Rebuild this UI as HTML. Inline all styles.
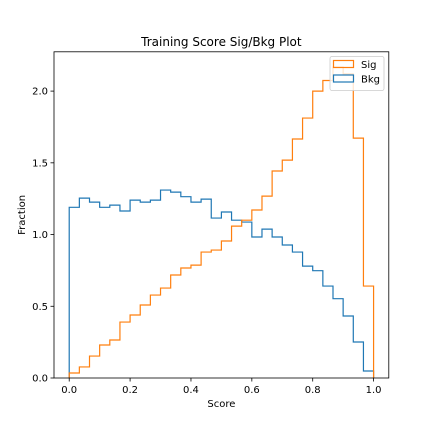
<!DOCTYPE html>
<html><head><meta charset="utf-8"><style>
body{margin:0;background:#fff;}
svg{display:block;font-family:"DejaVu Sans","Liberation Sans",sans-serif;}
</style></head><body>
<svg id="chart" width="432" height="432" viewBox="0 0 432 432">
<rect width="432" height="432" fill="#fff"/>
<text x="221.4" y="46" font-size="12" text-anchor="middle">Training Score Sig/Bkg Plot</text>
<g id="plot"></g>
</svg>
<script>
const binEdgesCount = 30;
const xTicks = [0.0, 0.2, 0.4, 0.6, 0.8, 1.0];
const xTickLabels = ["0.0","0.2","0.4","0.6","0.8","1.0"];
const yTicks = [0.0, 0.5, 1.0, 1.5, 2.0];
const yTickLabels = ["0.0","0.5","1.0","1.5","2.0"];
const sigValues = [0.035,0.077,0.153,0.23,0.265,0.39,0.439,0.509,0.578,0.627,0.718,0.767,0.787,0.878,0.892,0.955,1.059,1.10,1.171,1.268,1.443,1.519,1.666,1.812,2.0,2.074,2.167,2.12,1.672,0.641];
const bkgValues = [1.19,1.254,1.226,1.19,1.205,1.164,1.24,1.226,1.24,1.31,1.296,1.264,1.226,1.247,1.115,1.157,1.10,1.087,0.983,1.038,0.983,0.927,0.878,0.78,0.748,0.641,0.553,0.432,0.251,0.049];

const L=54,R=388.8,T=51.8,B=378;
const xmin=-0.05,xmax=1.05,ymin=0,ymax=2.274;
const X=v=>L+(v-xmin)/(xmax-xmin)*(R-L);
const Y=v=>B-(v-ymin)/(ymax-ymin)*(B-T);
const NS="http://www.w3.org/2000/svg";
const g=document.getElementById('plot');
function mk(tag,attrs){const e=document.createElementNS(NS,tag);for(const k in attrs)e.setAttribute(k,attrs[k]);g.appendChild(e);return e;}

function stepPath(vals){
  const n=vals.length;let d=`M${X(0)},${Y(0)}`;
  for(let i=0;i<n;i++){d+=` L${X(i/n)},${Y(vals[i])} L${X((i+1)/n)},${Y(vals[i])}`;}
  d+=` L${X(1)},${Y(0)}`;return d;
}
let p=mk('path',{d:stepPath(bkgValues),fill:'none',stroke:'#1f77b4','stroke-width':1.2});


p=mk('path',{d:stepPath(sigValues),fill:'none',stroke:'#ff7f0e','stroke-width':1.2});



let fr=mk('rect',{x:L,y:T,width:R-L,height:B-T,fill:'none',stroke:'#000','stroke-width':0.8});



xTicks.forEach((v,i)=>{
  const t=mk('line',{x1:X(v),x2:X(v),y1:B,y2:B+3.5,stroke:'#000','stroke-width':0.8});
  
  
  const tx=mk('text',{x:X(v),y:B+15,'font-size':10,'text-anchor':'middle'});
  tx.textContent=xTickLabels[i];
  
  
});
yTicks.forEach((v,i)=>{
  const t=mk('line',{x1:L-3.5,x2:L,y1:Y(v),y2:Y(v),stroke:'#000','stroke-width':0.8});
  
  
  const tx=mk('text',{x:L-6,y:Y(v)+3.5,'font-size':10,'text-anchor':'end'});
  tx.textContent=yTickLabels[i];
  
  
});
let xl=mk('text',{x:(L+R)/2,y:407,'font-size':10,'text-anchor':'middle'});
xl.textContent='Score';


let yl=mk('text',{x:0,y:0,'font-size':10,'text-anchor':'middle',transform:`translate(25,${(T+B)/2}) rotate(-90)`});
yl.textContent='Fraction';



// legend
let lg=mk('rect',{x:330,y:56.5,width:54,height:34,rx:2,fill:'#fff','fill-opacity':0.8,stroke:'#ccc','stroke-width':0.8});


[['Sig','#ff7f0e',60.5],['Bkg','#1f77b4',75]].forEach(([lab,c,y])=>{
  const r=mk('rect',{x:333.5,y:y,width:20,height:7,fill:'none',stroke:c,'stroke-width':1.2});
  
  
  const t=mk('text',{x:361,y:y+7.5,'font-size':10});
  t.textContent=lab;
  
  
});
</script>
</body></html>
